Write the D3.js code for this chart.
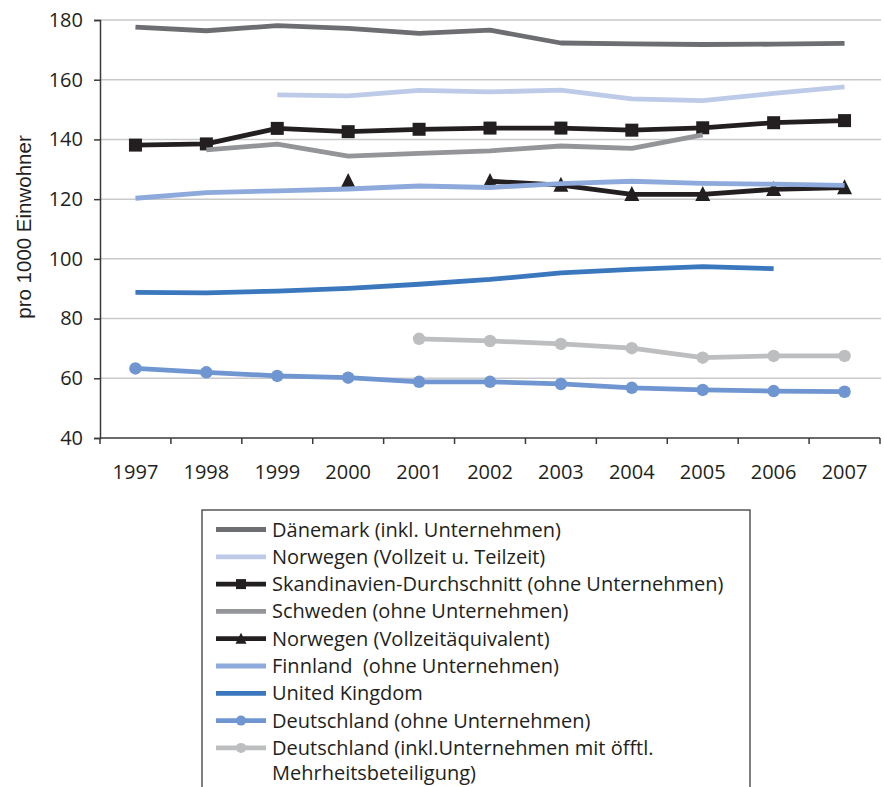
<!DOCTYPE html>
<html>
<head>
<meta charset="utf-8">
<script src="https://cdn.jsdelivr.net/npm/d3@7/dist/d3.min.js"></script>
<style>
  html, body { margin: 0; padding: 0; background: #fff; }
  svg { display: block; }
</style>
</head>
<body>
<svg id="chart" width="884" height="787"></svg>
<script>
// Jahre (Kategorien der x-Achse)
const years = ["1997","1998","1999","2000","2001","2002","2003","2004","2005","2006","2007"];

// Werte je Reihe, pro 1000 Einwohner (null = kein Wert)
const daenemark      = [177.6, 176.4, 178.1, 177.2, 175.5, 176.6, 172.3, 172.0, 171.8, 171.9, 172.2];
const norwegenTZ     = [null, null, 154.9, 154.6, 156.4, 155.9, 156.5, 153.6, 153.0, 155.4, 157.6];
const skandinavien   = [138.1, 138.5, 143.7, 142.6, 143.4, 143.8, 143.8, 143.1, 143.9, 145.6, 146.3];
const schweden       = [null, 136.5, 138.4, 134.4, 135.3, 136.2, 137.8, 137.0, 141.5, null, null];
const norwegenVZAE   = [null, null, null, 126.0, null, 126.0, 124.7, 121.6, 121.6, 123.3, 123.9];
const finnland       = [120.3, 122.2, 122.8, 123.4, 124.4, 123.9, 125.2, 126.0, 125.3, 125.0, 124.6];
const uk             = [88.8, 88.6, 89.2, 90.1, 91.5, 93.1, 95.3, 96.5, 97.4, 96.7, null];
const deutschland    = [63.3, 62.0, 60.8, 60.2, 58.8, 58.8, 58.1, 56.8, 56.1, 55.7, 55.5];
const deutschlandInk = [null, null, null, null, 73.2, 72.5, 71.5, 70.1, 66.9, 67.5, 67.5];

// Achsenbeschriftung
const yTicks = [40, 60, 80, 100, 120, 140, 160, 180];
const yTitle = "pro 1000 Einwohner";

// Reihen: Name, Werte, Farbe, Markertyp
const series = [
  { name: "Dänemark (inkl. Unternehmen)", values: daenemark, color: "#6d6e71", marker: null },
  { name: "Norwegen (Vollzeit u. Teilzeit)", values: norwegenTZ, color: "#bdcbe9", marker: null },
  { name: "Skandinavien-Durchschnitt (ohne Unternehmen)", values: skandinavien, color: "#231f20", marker: "square" },
  { name: "Schweden (ohne Unternehmen)", values: schweden, color: "#939598", marker: null },
  { name: "Norwegen (Vollzeitäquivalent)", values: norwegenVZAE, color: "#231f20", marker: "triangle" },
  { name: "Finnland\u00a0 (ohne Unternehmen)", values: finnland, color: "#8eaadc", marker: null },
  { name: "United Kingdom", values: uk, color: "#3a77bd", marker: null },
  { name: "Deutschland (ohne Unternehmen)", values: deutschland, color: "#6f96d1", marker: "circle" },
  { name: ["Deutschland (inkl.Unternehmen mit öfftl.", "Mehrheitsbeteiligung)"], values: deutschlandInk, color: "#bcbec0", marker: "circle" }
];

const svg = d3.select("#chart");
const FONT = "'Open Sans', 'Noto Sans', sans-serif";
const TEXT = "#231f20";

const x = d3.scaleBand().domain(years).range([100, 880]).paddingInner(0).paddingOuter(0);
const y = d3.scaleLinear().domain([40, 180]).range([438, 20]);

// Gitterlinien
svg.append("g")
  .selectAll("line")
  .data(yTicks.filter(t => t > 40))
  .join("line")
  .attr("x1", 100).attr("x2", 881)
  .attr("y1", d => y(d)).attr("y2", d => y(d))
  .attr("stroke", "#c9c9c9").attr("stroke-width", 1.5);

// y-Achse
const yAxis = d3.axisLeft(y).tickValues(yTicks).tickSize(6).tickPadding(11).tickFormat(d3.format("d"));
const gy = svg.append("g").attr("transform", "translate(100,0)").call(yAxis);
gy.select(".domain").attr("stroke", "#3a3a3a").attr("stroke-width", 1.5);
gy.selectAll(".tick line").attr("stroke", "#3a3a3a").attr("stroke-width", 1.5);
gy.selectAll("text").attr("font-family", FONT).attr("font-size", 20).attr("fill", TEXT);

// x-Achse mit Strichen zwischen den Kategorien
const gx = svg.append("g").attr("transform", "translate(0,438)");
gx.append("line").attr("x1", 100).attr("x2", 880).attr("y1", 0).attr("y2", 0)
  .attr("stroke", "#3a3a3a").attr("stroke-width", 1.5);
const boundaries = years.map(yr => x(yr)).concat([x(years[years.length - 1]) + x.bandwidth()]);
gx.selectAll("line.tk").data(boundaries).join("line").attr("class", "tk")
  .attr("x1", d => d).attr("x2", d => d).attr("y1", 0).attr("y2", 6)
  .attr("stroke", "#3a3a3a").attr("stroke-width", 1.5);
gx.selectAll("text").data(years).join("text")
  .attr("x", d => x(d) + x.bandwidth() / 2)
  .attr("y", 41)
  .attr("text-anchor", "middle")
  .attr("font-family", FONT).attr("font-size", 20).attr("fill", TEXT)
  .text(d => d);

// y-Achsentitel
svg.append("text")
  .attr("transform", "translate(31,227) rotate(-90)")
  .attr("text-anchor", "middle")
  .attr("font-family", "'Liberation Sans', Arial, sans-serif")
  .attr("font-size", 20.5).attr("fill", TEXT)
  .text(yTitle);

const cx = i => x(years[i]) + x.bandwidth() / 2;
const line = d3.line()
  .defined(d => d.v != null)
  .x(d => cx(d.i))
  .y(d => y(d.v));

const plot = svg.append("g");

function drawMarker(g, type, px, py, color, size) {
  if (type === "square") {
    g.append("rect").attr("x", px - size / 2).attr("y", py - size / 2)
      .attr("width", size).attr("height", size).attr("fill", color);
  } else if (type === "triangle") {
    const h = size, w = size;
    g.append("path")
      .attr("d", `M${px},${py - h * 0.55}L${px + w / 2},${py + h * 0.45}L${px - w / 2},${py + h * 0.45}Z`)
      .attr("fill", color);
  } else if (type === "circle") {
    g.append("circle").attr("cx", px).attr("cy", py).attr("r", size / 2).attr("fill", color);
  }
}

// Linien und Marker je Reihe
series.forEach(s => {
  const pts = s.values.map((v, i) => ({ v, i }));
  plot.append("path")
    .datum(pts)
    .attr("d", line)
    .attr("fill", "none")
    .attr("stroke", s.color)
    .attr("stroke-width", 4.8)
    .attr("stroke-linejoin", "round");
  if (s.marker) {
    const sz = s.marker === "square" ? 13 : s.marker === "triangle" ? 15 : 12.5;
    pts.filter(p => p.v != null).forEach(p => drawMarker(plot, s.marker, cx(p.i), y(p.v), s.color, sz));
  }
});

// Legende
const lg = svg.append("g");
lg.append("rect").attr("x", 202).attr("y", 510).attr("width", 548).attr("height", 300)
  .attr("fill", "#fff").attr("stroke", "#555").attr("stroke-width", 1.5);

const rowY0 = 529.5, rowStep = 27.3;
series.forEach((s, k) => {
  const ry = rowY0 + k * rowStep;
  lg.append("line").attr("x1", 216).attr("x2", 266).attr("y1", ry).attr("y2", ry)
    .attr("stroke", s.color).attr("stroke-width", 4.8);
  if (s.marker) {
    const sz = s.marker === "square" ? 10 : s.marker === "triangle" ? 11 : 10;
    drawMarker(lg, s.marker, 241, ry, s.color, sz);
  }
  const lines = Array.isArray(s.name) ? s.name : [s.name];
  const t = lg.append("text")
    .attr("x", 272).attr("y", ry)
    .attr("font-family", FONT).attr("font-size", 20).attr("fill", TEXT);
  lines.forEach((ln, j) => {
    t.append("tspan").attr("x", 272).attr("dy", j === 0 ? "0.35em" : rowStep - 2).text(ln);
  });
});
</script>
</body>
</html>
